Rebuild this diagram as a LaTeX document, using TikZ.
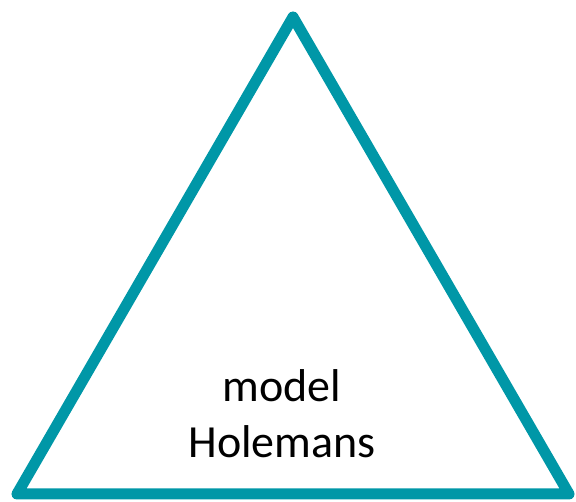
\documentclass[tikz,border=0pt]{standalone}
\usepackage{fontspec}
\setmainfont{Carlito}
\usetikzlibrary{positioning}
\definecolor{holeteal}{RGB}{0,151,167}

\begin{document}
\begin{tikzpicture}[x=1pt, y=-1pt,
    edge/.style={draw=holeteal, line width=11pt, line join=round, line cap=round},
    caption/.style={font=\fontsize{46}{56}\selectfont, align=center, inner sep=0pt}]
    \useasboundingbox (0,0) rectangle (576,502);

    % corners
    \coordinate (apex) at (293,17);
    \coordinate (left) at (17,494);
    \coordinate (right) at (569,494);

    % triangle
    \draw[edge] (apex) -- (left) -- (right) -- cycle;

    % text
    \node[caption, anchor=base] (name) at (282,458) {model\\Holemans};
\end{tikzpicture}
\end{document}
